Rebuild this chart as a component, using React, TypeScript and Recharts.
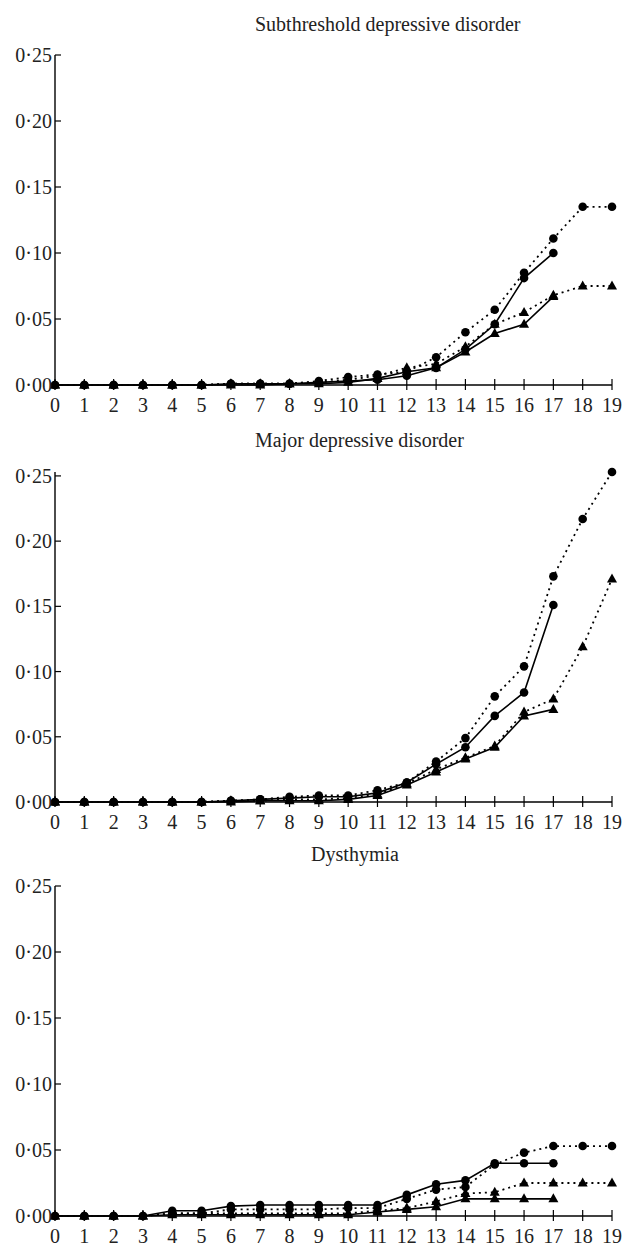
import React from 'react';
import { LineChart, Line, XAxis, YAxis } from 'recharts';

// age in years
const ages = [0, 1, 2, 3, 4, 5, 6, 7, 8, 9, 10, 11, 12, 13, 14, 15, 16, 17, 18, 19];
const yTicks = [0, 0.05, 0.1, 0.15, 0.2, 0.25];

// Subthreshold depressive disorder
const subCircleSolid = [0, 0, 0, 0, 0, 0, 0.001, 0.001, 0.001, 0.002, 0.003, 0.004, 0.007, 0.013, 0.027, 0.046, 0.081, 0.1, null, null];
const subCircleDotted = [0, 0, 0, 0, 0, 0, 0.001, 0.001, 0.001, 0.003, 0.006, 0.008, 0.01, 0.021, 0.04, 0.057, 0.085, 0.111, 0.135, 0.135];
const subTriangleSolid = [0, 0, 0, 0, 0, 0, 0, 0, 0.001, 0.001, 0.002, 0.005, 0.01, 0.013, 0.025, 0.039, 0.046, 0.067, null, null];
const subTriangleDotted = [0, 0, 0, 0, 0, 0, 0.001, 0.001, 0.001, 0.002, 0.004, 0.007, 0.013, 0.016, 0.029, 0.046, 0.055, 0.068, 0.075, 0.075];

// Major depressive disorder
const majCircleSolid = [0, 0, 0, 0, 0, 0, 0.001, 0.002, 0.003, 0.004, 0.004, 0.007, 0.015, 0.029, 0.042, 0.066, 0.084, 0.151, null, null];
const majCircleDotted = [0, 0, 0, 0, 0, 0, 0.001, 0.002, 0.004, 0.005, 0.005, 0.009, 0.015, 0.031, 0.049, 0.081, 0.104, 0.173, 0.217, 0.253];
const majTriangleSolid = [0, 0, 0, 0, 0, 0, 0, 0.001, 0.001, 0.001, 0.002, 0.005, 0.013, 0.023, 0.033, 0.042, 0.066, 0.071, null, null];
const majTriangleDotted = [0, 0, 0, 0, 0, 0, 0.001, 0.001, 0.002, 0.002, 0.003, 0.006, 0.014, 0.025, 0.034, 0.043, 0.069, 0.079, 0.119, 0.171];

// Dysthymia
const dysCircleSolid = [0, 0, 0, 0, 0.004, 0.004, 0.0075, 0.0083, 0.0083, 0.0083, 0.0083, 0.0083, 0.016, 0.024, 0.027, 0.04, 0.04, 0.04, null, null];
const dysCircleDotted = [0, 0, 0, 0, 0.002, 0.002, 0.005, 0.005, 0.005, 0.005, 0.006, 0.006, 0.013, 0.02, 0.022, 0.039, 0.048, 0.053, 0.053, 0.053];
const dysTriangleSolid = [0, 0, 0, 0, 0.001, 0.001, 0.001, 0.001, 0.001, 0.001, 0.001, 0.003, 0.005, 0.007, 0.013, 0.013, 0.013, 0.013, null, null];
const dysTriangleDotted = [0, 0, 0, 0, 0.002, 0.002, 0.002, 0.002, 0.002, 0.002, 0.002, 0.004, 0.006, 0.011, 0.017, 0.018, 0.025, 0.025, 0.025, 0.025];

const font = '"Liberation Serif", "Times New Roman", serif';

const fmt = (v: number) => v.toFixed(2).replace('.', '\u00b7');

const XTick = (props: any) => {
  const { x, y, payload } = props;
  return (
    <g>
      <line x1={x} x2={x} y1={y - 6} y2={y + 5} stroke="#000" strokeWidth={1.2} />
      <text x={x} y={y + 27} textAnchor="middle" fontFamily={font} fontSize={20} fill="#222">
        {payload.value}
      </text>
    </g>
  );
};

const YTick = (props: any) => {
  const { x, y, payload } = props;
  return (
    <g>
      <line x1={x} x2={x + 6} y1={y} y2={y} stroke="#000" strokeWidth={1.2} />
      <text x={x - 3} y={y + 7} textAnchor="end" fontFamily={font} fontSize={20} fill="#222">
        {fmt(payload.value)}
      </text>
    </g>
  );
};

const marker = (shape: string) => (props: any) => {
  const { cx, cy, index, value } = props;
  if (value == null || cx == null || cy == null) return <g key={index} />;
  if (shape === 'circle') {
    return <circle key={index} cx={cx} cy={cy} r={4.3} fill="#000" />;
  }
  return (
    <path
      key={index}
      d={`M${cx},${cy - 5.5}L${cx + 5},${cy + 3.5}L${cx - 5},${cy + 3.5}Z`}
      fill="#000"
    />
  );
};

type PanelProps = {
  title: string;
  top: number;
  titleTop: number;
  cs: (number | null)[];
  cd: (number | null)[];
  ts: (number | null)[];
  td: (number | null)[];
};

const Panel = ({ title, top, titleTop, cs, cd, ts, td }: PanelProps) => {
  const data = ages.map((age, i) => ({ age, cs: cs[i], cd: cd[i], ts: ts[i], td: td[i] }));
  return (
    <>
      <div
        style={{
          position: 'absolute',
          top: titleTop,
          left: 255,
          width: 200,
          textAlign: 'center',
          whiteSpace: 'nowrap',
          fontFamily: font,
          fontSize: 20,
          lineHeight: '20px',
          color: '#222',
        }}
      >
        {title}
      </div>
      <div style={{ position: 'absolute', top, left: 0 }}>
        <LineChart width={627} height={370} data={data} margin={{ top: 10, right: 15, left: 0, bottom: 0 }}>
          <XAxis
            dataKey="age"
            type="number"
            domain={[0, 19]}
            ticks={ages}
            interval={0}
            tickSize={0}
            tickMargin={0}
            tickLine={false}
            height={30}
            tick={<XTick />}
            axisLine={{ stroke: '#000', strokeWidth: 1.4 }}
          />
          <YAxis
            type="number"
            domain={[0, 0.25]}
            ticks={yTicks}
            interval={0}
            tickSize={0}
            tickMargin={0}
            tickLine={false}
            width={55}
            tick={<YTick />}
            axisLine={{ stroke: '#000', strokeWidth: 1.4 }}
          />
          <Line dataKey="cd" stroke="#000" strokeWidth={1.8} strokeDasharray="2 4" dot={marker('circle')} isAnimationActive={false} />
          <Line dataKey="td" stroke="#000" strokeWidth={1.8} strokeDasharray="2 4" dot={marker('triangle')} isAnimationActive={false} />
          <Line dataKey="cs" stroke="#000" strokeWidth={1.6} dot={marker('circle')} isAnimationActive={false} />
          <Line dataKey="ts" stroke="#000" strokeWidth={1.6} dot={marker('triangle')} isAnimationActive={false} />
        </LineChart>
      </div>
    </>
  );
};

export default function App() {
  return (
    <div style={{ position: 'absolute', top: 0, left: 0, width: 627, height: 1247, background: '#fff' }}>
      <Panel
        title="Subthreshold depressive disorder"
        top={45}
        titleTop={14}
        cs={subCircleSolid}
        cd={subCircleDotted}
        ts={subTriangleSolid}
        td={subTriangleDotted}
      />
      <Panel
        title="Major depressive disorder"
        top={462}
        titleTop={430}
        cs={majCircleSolid}
        cd={majCircleDotted}
        ts={majTriangleSolid}
        td={majTriangleDotted}
      />
      <Panel
        title="Dysthymia"
        top={876}
        titleTop={844}
        cs={dysCircleSolid}
        cd={dysCircleDotted}
        ts={dysTriangleSolid}
        td={dysTriangleDotted}
      />
    </div>
  );
}
